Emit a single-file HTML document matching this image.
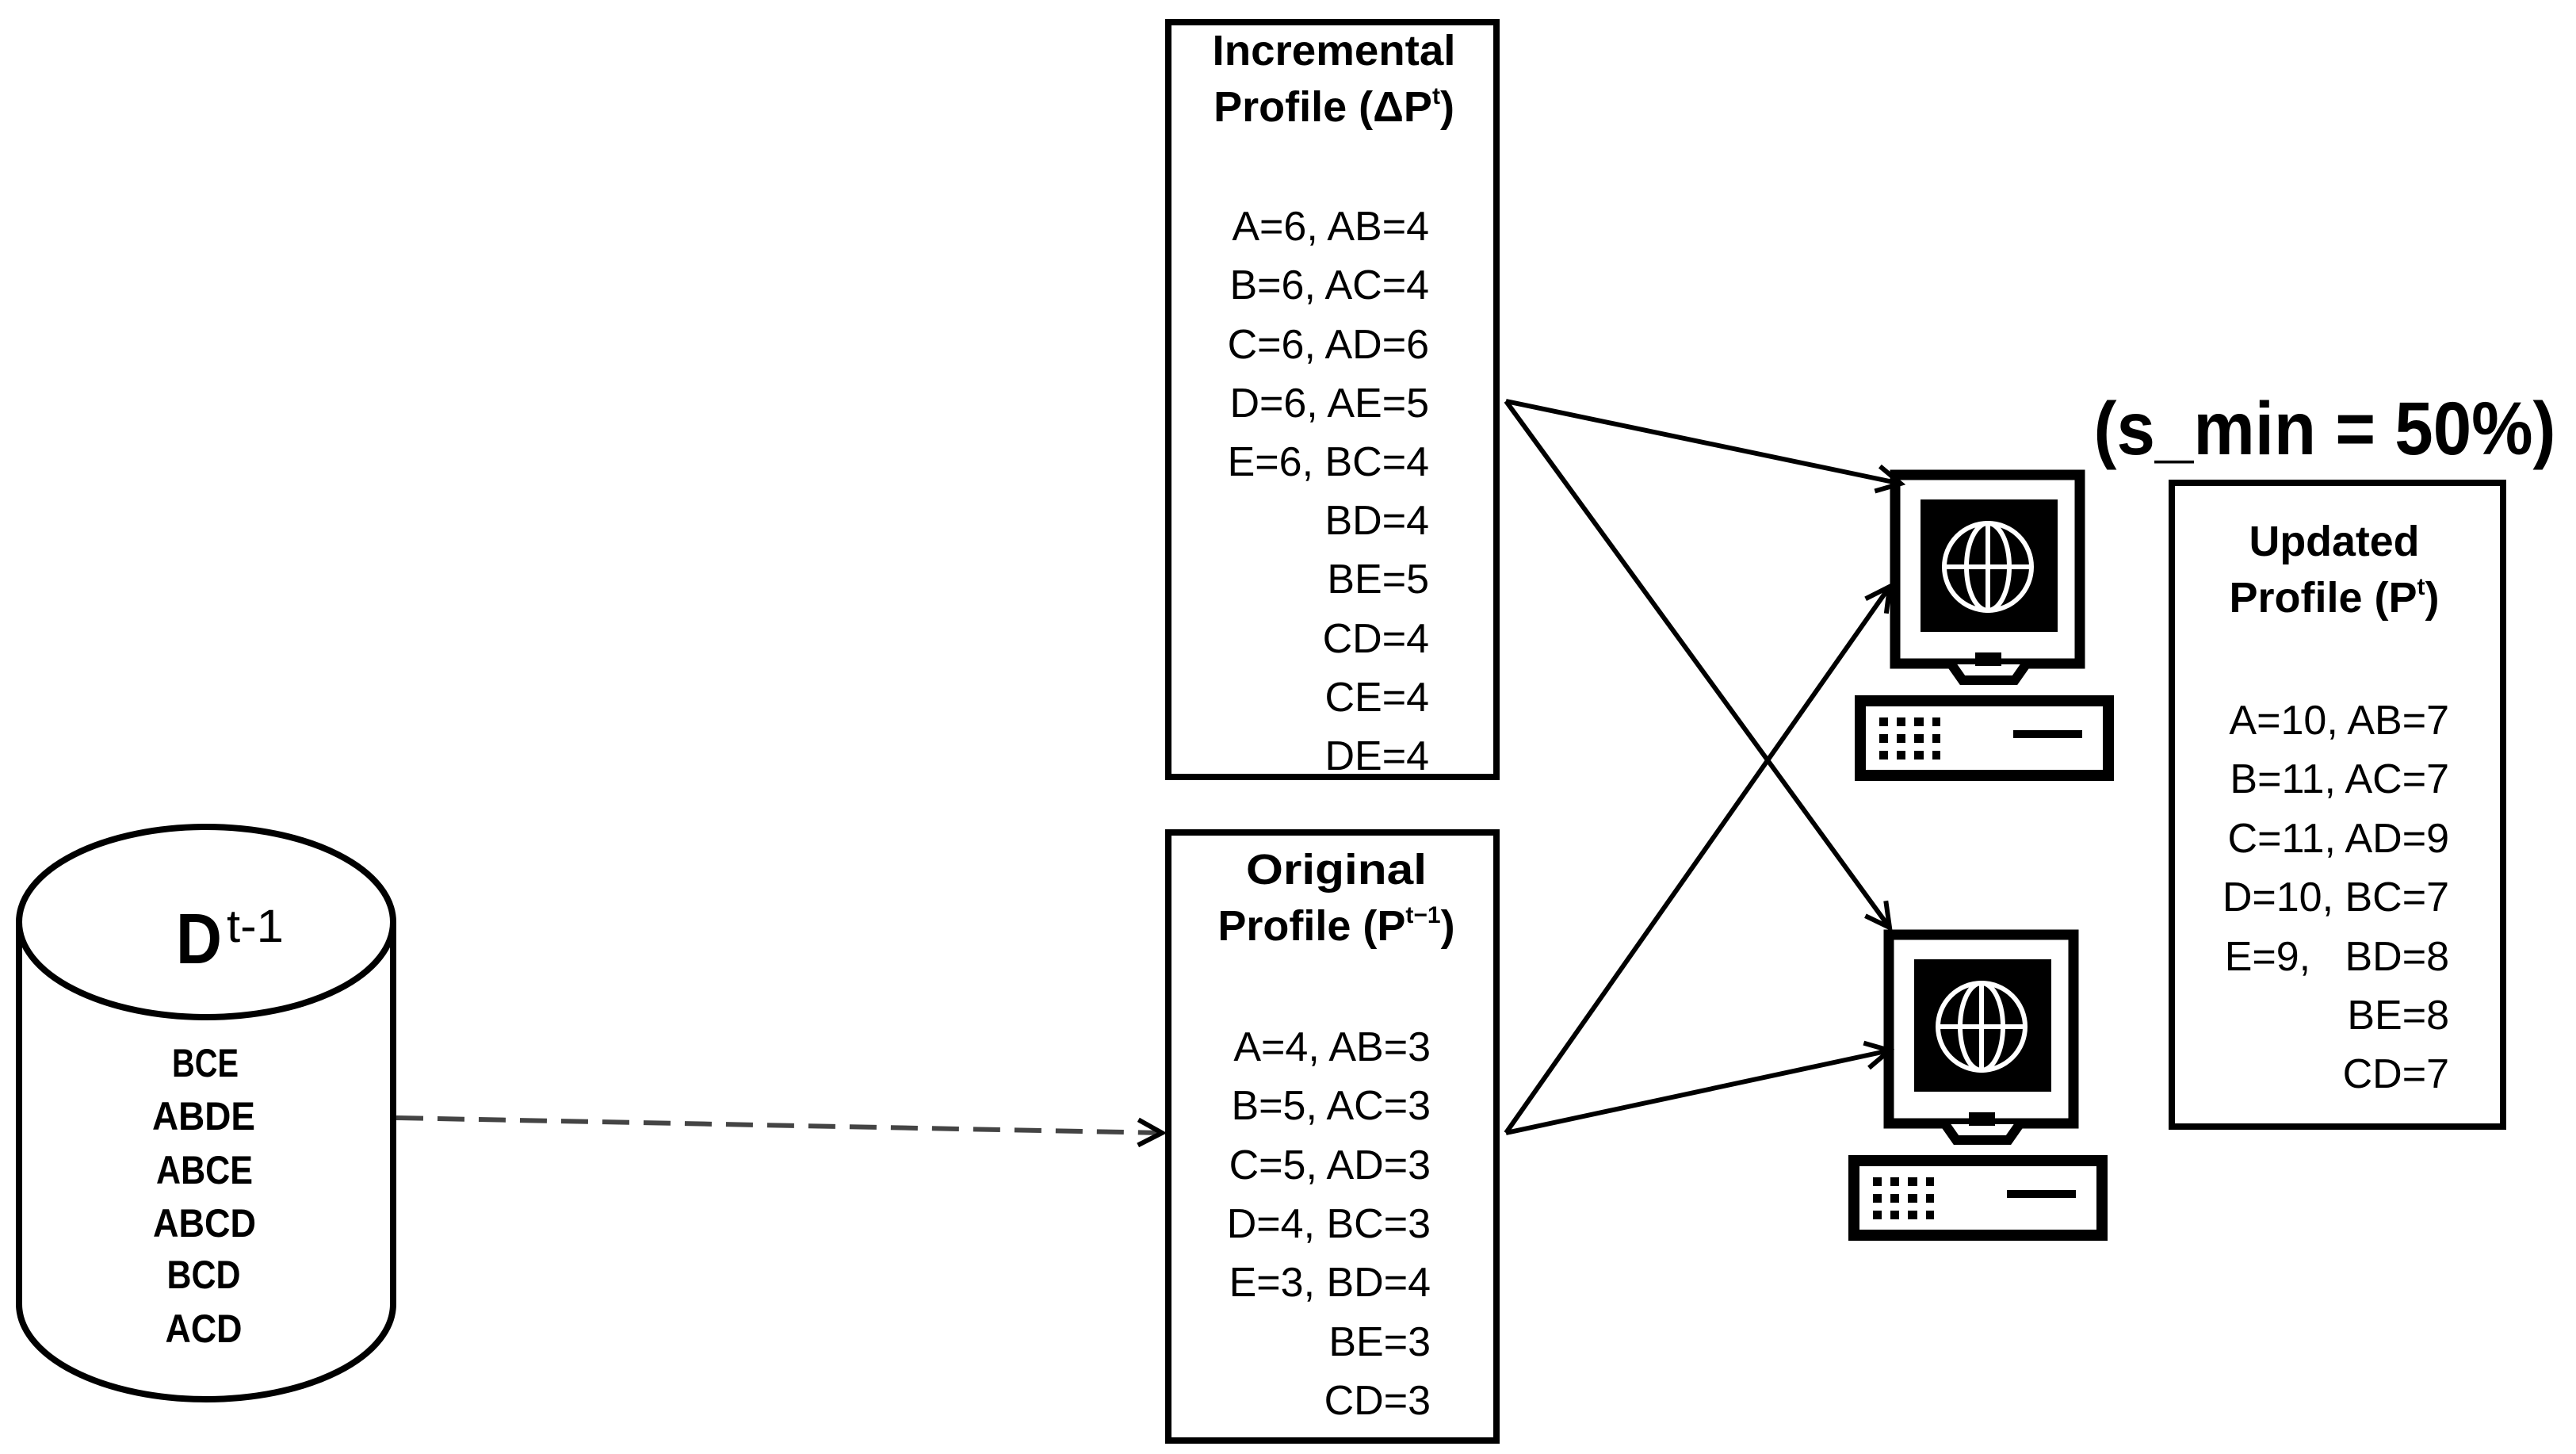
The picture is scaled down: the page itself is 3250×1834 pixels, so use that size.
<!DOCTYPE html>
<html><head><meta charset="utf-8"><style>html,body{margin:0;padding:0;background:#fff}svg{display:block}</style></head>
<body>
<svg width="3250" height="1834" viewBox="0 0 3250 1834" xmlns="http://www.w3.org/2000/svg" font-family="Liberation Sans, sans-serif">
<defs>
<marker id="ah" markerWidth="40" markerHeight="40" refX="34" refY="20" orient="auto" markerUnits="userSpaceOnUse">
<path d="M4,4 L34,20 L4,36" fill="none" stroke="#000" stroke-width="6"/>
</marker>
<g id="comp">
<rect x="2391" y="599" width="233" height="238" fill="#fff" stroke="#000" stroke-width="13"/>
<rect x="2423" y="630" width="173" height="167" fill="#000"/>
<circle cx="2508" cy="715" r="55" fill="none" stroke="#fff" stroke-width="6"/>
<ellipse cx="2508" cy="715" rx="27" ry="55" fill="none" stroke="#fff" stroke-width="6"/>
<line x1="2508" y1="660" x2="2508" y2="770" stroke="#fff" stroke-width="6"/>
<line x1="2453" y1="715" x2="2563" y2="715" stroke="#fff" stroke-width="6"/>
<path d="M2462,838 L2476,858 L2542,858 L2556,838" fill="#fff" stroke="#000" stroke-width="12"/>
<rect x="2492" y="823" width="33" height="17" fill="#000"/>
<rect x="2347" y="884" width="313" height="94" fill="#fff" stroke="#000" stroke-width="14"/>
<g fill="#000">
<rect x="2371" y="905" width="11" height="11"/><rect x="2393" y="905" width="11" height="11"/><rect x="2415" y="905" width="12" height="11"/><rect x="2438" y="905" width="10" height="11"/>
<rect x="2371" y="926" width="11" height="11"/><rect x="2393" y="926" width="11" height="11"/><rect x="2415" y="926" width="12" height="11"/><rect x="2438" y="926" width="10" height="11"/>
<rect x="2371" y="947" width="11" height="11"/><rect x="2393" y="947" width="11" height="11"/><rect x="2415" y="947" width="12" height="11"/><rect x="2438" y="947" width="10" height="11"/>
<rect x="2540" y="921" width="87" height="10"/>
</g>
</g>
</defs>

<path d="M24,1163 L24,1645 A236,120 0 0 0 496,1645 L496,1163" fill="#fff" stroke="#000" stroke-width="8"/>
<ellipse cx="260" cy="1163" rx="236" ry="120" fill="#fff" stroke="#000" stroke-width="8"/>
<text x="222" y="1215" font-size="90" font-weight="bold" textLength="58" lengthAdjust="spacingAndGlyphs">D</text>
<text x="286" y="1188" font-size="58" textLength="72" lengthAdjust="spacingAndGlyphs">t-1</text>
<g font-size="50" font-weight="bold" text-anchor="middle">
<text x="259" y="1358" textLength="84" lengthAdjust="spacingAndGlyphs">BCE</text>
<text x="257" y="1425" textLength="130" lengthAdjust="spacingAndGlyphs">ABDE</text>
<text x="258" y="1493" textLength="122" lengthAdjust="spacingAndGlyphs">ABCE</text>
<text x="258" y="1560" textLength="130" lengthAdjust="spacingAndGlyphs">ABCD</text>
<text x="257" y="1625" textLength="93" lengthAdjust="spacingAndGlyphs">BCD</text>
<text x="257" y="1693" textLength="97" lengthAdjust="spacingAndGlyphs">ACD</text>
</g>

<line x1="500" y1="1410" x2="1466" y2="1429" stroke="#444" stroke-width="6" stroke-dasharray="34,18" marker-end="url(#ah)"/>

<rect x="1474" y="28" width="414" height="952" fill="#fff" stroke="#000" stroke-width="8"/>
<rect x="1474" y="1050" width="414" height="767" fill="#fff" stroke="#000" stroke-width="8"/>
<rect x="2740" y="609" width="418" height="812" fill="#fff" stroke="#000" stroke-width="8"/>

<g font-size="54" font-weight="bold" text-anchor="middle">
<text x="1683" y="82" textLength="307" lengthAdjust="spacingAndGlyphs">Incremental</text>
<text x="1683" y="153">Profile (ΔP<tspan font-size="30" dy="-22">t</tspan><tspan dy="22">)</tspan></text>
<text x="1686" y="1115" textLength="228" lengthAdjust="spacingAndGlyphs">Original</text>
<text x="1686" y="1186">Profile (P<tspan font-size="30" dy="-22">t−1</tspan><tspan dy="22">)</tspan></text>
<text x="2945" y="701" textLength="215" lengthAdjust="spacingAndGlyphs">Updated</text>
<text x="2945" y="772">Profile (P<tspan font-size="30" dy="-22">t</tspan><tspan dy="22">)</tspan></text>
</g>

<g font-size="52" text-anchor="end">
<text x="1803" y="303">A=6, AB=4</text>
<text x="1803" y="377">B=6, AC=4</text>
<text x="1803" y="452">C=6, AD=6</text>
<text x="1803" y="526">D=6, AE=5</text>
<text x="1803" y="600">E=6, BC=4</text>
<text x="1803" y="674">BD=4</text>
<text x="1803" y="748">BE=5</text>
<text x="1803" y="823">CD=4</text>
<text x="1803" y="897">CE=4</text>
<text x="1803" y="971">DE=4</text>

<text x="1805" y="1338">A=4, AB=3</text>
<text x="1805" y="1412">B=5, AC=3</text>
<text x="1805" y="1487">C=5, AD=3</text>
<text x="1805" y="1561">D=4, BC=3</text>
<text x="1805" y="1635">E=3, BD=4</text>
<text x="1805" y="1710">BE=3</text>
<text x="1805" y="1784">CD=3</text>

<text x="3090" y="926">A=10, AB=7</text>
<text x="3090" y="1000">B=11, AC=7</text>
<text x="3090" y="1075">C=11, AD=9</text>
<text x="3090" y="1149">D=10, BC=7</text>
<text x="3090" y="1224" xml:space="preserve">E=9,   BD=8</text>
<text x="3090" y="1298">BE=8</text>
<text x="3090" y="1372">CD=7</text>
</g>

<text x="2933" y="573" font-size="95" font-weight="bold" text-anchor="middle" textLength="583" lengthAdjust="spacingAndGlyphs">(s_min = 50%)</text>

<use href="#comp"/>
<use href="#comp" transform="translate(-8,580)"/>

<g stroke="#000" stroke-width="6" fill="none" marker-end="url(#ah)">
<line x1="1900" y1="506" x2="2398" y2="610"/>
<line x1="1900" y1="506" x2="2384" y2="1170"/>
<line x1="1900" y1="1429" x2="2384" y2="740"/>
<line x1="1900" y1="1429" x2="2384" y2="1325"/>
</g>
</svg>
</body></html>
